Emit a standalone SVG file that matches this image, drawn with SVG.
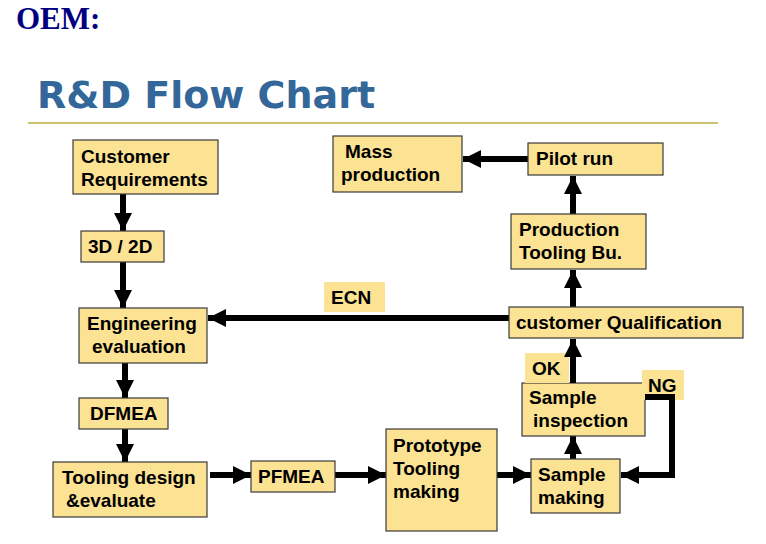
<svg xmlns="http://www.w3.org/2000/svg" width="766" height="544" viewBox="0 0 766 544">
<style>
.box{fill:#FCE293;stroke:#3a3a3a;stroke-width:1.2}
.lbl{fill:#FCE293}
.t{font-family:"Liberation Sans",Arial,sans-serif;font-weight:bold;font-size:19px;fill:#000}
.c{stroke:#000;stroke-width:6;fill:none}
</style>
<defs>
<marker id="ah" markerUnits="userSpaceOnUse" markerWidth="20" markerHeight="20" viewBox="0 0 20 20" refX="18" refY="10" orient="auto">
<path d="M0,1 L18,10 L0,19 Z" fill="#000"/>
</marker>
</defs>
<rect width="766" height="544" fill="#fff"/>
<text x="16" y="29" font-family="Liberation Serif,serif" font-weight="bold" font-size="31" fill="#000080">OEM:</text>
<text x="37" y="108" font-family="DejaVu Sans,Verdana,sans-serif" font-weight="bold" font-size="38" fill="#336699">R&amp;D Flow Chart</text>
<line x1="28" y1="123" x2="718" y2="123" stroke="#B8B040" stroke-width="1.5"/>

<g id="connectors">
<line class="c" x1="123" y1="194" x2="123" y2="231" marker-end="url(#ah)"/>
<line class="c" x1="123" y1="262" x2="123" y2="308" marker-end="url(#ah)"/>
<line class="c" x1="125" y1="363" x2="125" y2="398" marker-end="url(#ah)"/>
<line class="c" x1="125" y1="429" x2="125" y2="462" marker-end="url(#ah)"/>
<line class="c" x1="210" y1="475" x2="251" y2="475" marker-end="url(#ah)"/>
<line class="c" x1="335" y1="475" x2="386" y2="475" marker-end="url(#ah)"/>
<line class="c" x1="497" y1="475" x2="531" y2="475" marker-end="url(#ah)"/>
<line class="c" x1="573" y1="459" x2="573" y2="436" marker-end="url(#ah)"/>
<line class="c" x1="509" y1="318" x2="208" y2="318" marker-end="url(#ah)"/>
<line class="c" x1="573" y1="307" x2="573" y2="270" marker-end="url(#ah)"/>
<line class="c" x1="573" y1="214" x2="573" y2="176" marker-end="url(#ah)"/>
<line class="c" x1="528" y1="159" x2="463" y2="159" marker-end="url(#ah)"/>
</g>

<g id="custreq"><rect class="box" x="73" y="140" width="145" height="54"/><text class="t" x="81" y="163">Customer</text><text class="t" x="81" y="186">Requirements</text></g>
<g id="d3d2"><rect class="box" x="81" y="231" width="83" height="31"/><text class="t" x="88" y="253">3D / 2D</text></g>
<g id="engeval"><rect class="box" x="79" y="308" width="128" height="55"/><text class="t" x="87" y="330">Engineering</text><text class="t" x="92" y="353">evaluation</text></g>
<g id="dfmea"><rect class="box" x="79" y="398" width="89" height="31"/><text class="t" x="90" y="420">DFMEA</text></g>
<g id="tooldesign"><rect class="box" x="53" y="462" width="154" height="55"/><text class="t" x="62" y="484">Tooling design</text><text class="t" x="66" y="507">&amp;evaluate</text></g>
<g id="pfmea"><rect class="box" x="251" y="461" width="84" height="31"/><text class="t" x="258" y="483">PFMEA</text></g>
<g id="proto"><rect class="box" x="386" y="429" width="111" height="102"/><text class="t" x="393" y="452">Prototype</text><text class="t" x="393" y="475">Tooling</text><text class="t" x="393" y="498">making</text></g>
<g id="samplemaking"><rect class="box" x="531" y="459" width="89" height="54"/><text class="t" x="538" y="481">Sample</text><text class="t" x="538" y="504">making</text></g>
<g id="sampleinsp"><rect class="box" x="522" y="383" width="123" height="53"/><text class="t" x="529" y="404">Sample</text><text class="t" x="533" y="427">inspection</text></g>
<g id="custqual"><rect class="box" x="509" y="307" width="234" height="31"/><text class="t" x="516" y="329">customer Qualification</text></g>
<g id="prodtool"><rect class="box" x="511" y="214" width="135" height="55"/><text class="t" x="519" y="236">Production</text><text class="t" x="519" y="259">Tooling Bu.</text></g>
<g id="pilot"><rect class="box" x="528" y="143" width="135" height="32"/><text class="t" x="536" y="165">Pilot run</text></g>
<g id="mass"><rect class="box" x="333" y="136" width="129" height="56"/><text class="t" x="345" y="158">Mass</text><text class="t" x="341" y="181">production</text></g>

<g id="ecn"><rect class="lbl" x="324" y="282" width="61" height="30"/><text class="t" x="331" y="304">ECN</text></g>
<g id="ok"><rect class="lbl" x="525" y="353" width="44" height="30"/><text class="t" x="532" y="375">OK</text></g>
<g id="ng"><rect class="lbl" x="642" y="370" width="42" height="30"/><text class="t" x="648" y="392">NG</text></g>
<g id="connectors-over">
<line class="c" x1="573" y1="383" x2="573" y2="339" marker-end="url(#ah)"/>
<polyline class="c" points="645,397 672,397 672,475 621,475" marker-end="url(#ah)"/>
</g>
</svg>
